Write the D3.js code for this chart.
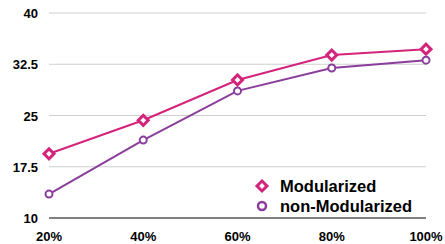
<!DOCTYPE html>
<html>
<head>
<meta charset="utf-8">
<script src="https://cdn.jsdelivr.net/npm/d3@7"></script>
<style>
  body { margin: 0; background: #fff; }
  text { font-family: "Liberation Sans", Arial, sans-serif; font-weight: bold; }
</style>
</head>
<body>
<svg id="chart" width="445" height="244"></svg>
<script>
var categories = ["20%", "40%", "60%", "80%", "100%"]
var modularized = [19.4, 24.3, 30.2, 33.85, 34.7]
var nonModularized = [13.5, 21.4, 28.6, 31.95, 33.1]
var yTicks = [10, 17.5, 25, 32.5, 40]

var svg = d3.select("#chart")
var plotLeft = 49, plotRight = 426, plotTop = 13, plotBottom = 218

var x = d3.scalePoint().domain(categories).range([plotLeft, plotRight])
var y = d3.scaleLinear().domain([10, 40]).range([plotBottom, plotTop])

// grid
svg.append("g").selectAll("line")
    .data(yTicks.slice(1))
    .enter().append("line")
    .attr("x1", plotLeft).attr("x2", plotRight)
    .attr("y1", d => y(d)).attr("y2", d => y(d))
    .attr("stroke", "#cfcfcf").attr("stroke-width", 1)

svg.append("line")
    .attr("x1", plotLeft).attr("x2", plotRight)
    .attr("y1", y(10)).attr("y2", y(10))
    .attr("stroke", "#000").attr("stroke-width", 1)

svg.append("g").selectAll("text")
    .data(yTicks)
    .enter().append("text")
    .attr("x", 38).attr("y", d => y(d) + 5)
    .attr("text-anchor", "end")
    .attr("font-size", 13)
    .text(d => d)

svg.append("g").selectAll("text")
    .data(categories)
    .enter().append("text")
    .attr("x", d => x(d)).attr("y", 241)
    .attr("text-anchor", "middle")
    .attr("font-size", 13)
    .text(d => d)

var line = d3.line().x((d, i) => x(categories[i])).y(d => y(d))

var pink = "#d4237a", purple = "#8a3d9a"

svg.append("path").datum(nonModularized)
    .attr("d", line).attr("fill", "none")
    .attr("stroke", purple).attr("stroke-width", 2)
svg.append("path").datum(modularized)
    .attr("d", line).attr("fill", "none")
    .attr("stroke", pink).attr("stroke-width", 2)

var diamond = d3.symbol().type(d3.symbolSquare).size(50)

svg.append("g").selectAll("circle")
    .data(nonModularized)
    .enter().append("circle")
    .attr("cx", (d, i) => x(categories[i])).attr("cy", d => y(d))
    .attr("r", 3.5)
    .attr("fill", "#fff").attr("stroke", purple).attr("stroke-width", 2)

svg.append("g").selectAll("path")
    .data(modularized)
    .enter().append("path")
    .attr("d", diamond)
    .attr("transform", (d, i) => "translate(" + x(categories[i]) + "," + y(d) + ") rotate(45)")
    .attr("fill", "#fff").attr("stroke", pink).attr("stroke-width", 3)

// legend
var legend = svg.append("g")
legend.append("path")
    .attr("d", diamond)
    .attr("transform", "translate(262,186) rotate(45)")
    .attr("fill", "#fff").attr("stroke", pink).attr("stroke-width", 3)
legend.append("text")
    .attr("x", 280).attr("y", 192)
    .attr("font-size", 16.5)
    .text("Modularized")
legend.append("circle")
    .attr("cx", 262).attr("cy", 206).attr("r", 4)
    .attr("fill", "#fff").attr("stroke", purple).attr("stroke-width", 2.5)
legend.append("text")
    .attr("x", 280).attr("y", 212)
    .attr("font-size", 16.5)
    .text("non-Modularized")
</script>
</body>
</html>
